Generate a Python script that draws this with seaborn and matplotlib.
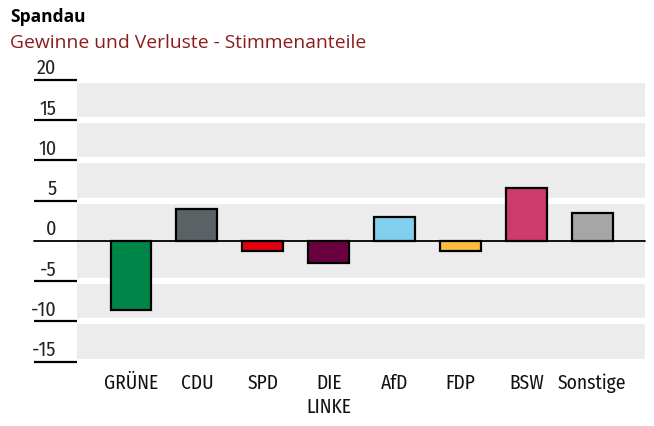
import matplotlib
matplotlib.use("Agg")
import matplotlib.pyplot as plt
import matplotlib.transforms as mtransforms
import seaborn as sns
import pandas as pd

parties = ["GRÜNE", "CDU", "SPD", "DIE\nLINKE", "AfD", "FDP", "BSW", "Sonstige"]
changes = [-8.6, 4.0, -1.3, -2.7, 2.9, -1.3, 6.6, 3.5]
colors = ["#008548", "#5a6265", "#e3000f", "#6b0040", "#80cfec", "#fbbd3b", "#cd3a6b", "#a6a6a6"]
yticks = [20, 15, 10, 5, 0, -5, -10, -15]
ytick_labels = ["20", "15", "10", "5", "0", "-5", "-10", "-15"]
title = "Spandau"
subtitle = "Gewinne und Verluste - Stimmenanteile"

sns.set_theme(style="white")
cond = ["Fira Sans Condensed", "DejaVu Sans"]
plt.rcParams["font.family"] = ["Open Sans", "DejaVu Sans"]

df = pd.DataFrame({"party": parties, "change": changes})

fig = plt.figure(figsize=(6.54, 4.27), dpi=100)
ax = fig.add_axes([77/654, 1-362.7/427, 568/654, 282/427])
ax.set_facecolor("#ececec")

sns.barplot(data=df, x="party", y="change", hue="party", palette=colors,
            legend=False, width=0.62, edgecolor="black", linewidth=1.6,
            saturation=1, ax=ax, zorder=3)

ax.set_ylim(-15, 20)
ax.set_xlim(-0.82, 7.8)
for sp in ax.spines.values():
    sp.set_visible(False)

# white separators between grey bands
for t in yticks:
    if t != 0:
        ax.axhline(t, color="white", lw=4.4, zorder=1)

# zero line
ax.axhline(0, xmin=-0.0757, xmax=1, color="black", lw=1.3, zorder=4, clip_on=False)

# left tick lines and labels
trans = mtransforms.blended_transform_factory(ax.transAxes, ax.transData)
ax.set_yticks([])
for t, lab in zip(yticks, ytick_labels):
    if t != 0:
        ax.plot([-0.0757, 0], [t, t], color="black", lw=1.6, transform=trans,
                clip_on=False, solid_capstyle="butt")
    ax.text(-0.036, t + 0.3, lab, transform=trans, ha="right", va="bottom",
            fontsize=14.5, family=cond, fontweight="normal", color="#222222")

ax.set_xlabel("")
ax.set_ylabel("")
ax.tick_params(axis="x", length=0, pad=8)
for lbl in ax.get_xticklabels():
    lbl.set_fontsize(14)
    lbl.set_family(cond)
    lbl.set_color("#111111")
    lbl.set_linespacing(1.25)

fig.text(10/654, 1-17/427, title, fontsize=12.5, fontweight="bold", color="black",
         va="center", ha="left")
fig.text(10/654, 1-43/427, subtitle, fontsize=13.9, color="#8c1c1c",
         va="center", ha="left")

fig.savefig("out.png", dpi=100)
